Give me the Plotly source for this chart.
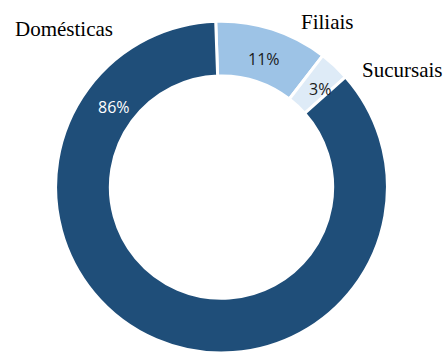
import plotly.graph_objects as go

# Share of units by type (%)
categories = ["Filiais", "Sucursais", "Domésticas"]
shares = [11, 3, 86]

slice_colors = ["#9DC3E6", "#DEEBF7", "#1F4E79"]
pct_colors = ["#1a1a1a", "#1a1a1a", "#ffffff"]

W, H = 447, 353

fig = go.Figure(
    go.Pie(
        labels=categories,
        values=shares,
        hole=0.67,
        sort=False,
        direction="clockwise",
        rotation=-2,
        textinfo="none",
        marker=dict(colors=slice_colors, line=dict(color="#ffffff", width=3)),
        domain=dict(x=[55.5 / W, 387.5 / W], y=[0, 0.94]),
        showlegend=False,
    )
)

# pixel anchors for the category names and percentage labels
name_pos = {"Domésticas": (63.5, 29), "Filiais": (327, 21.5), "Sucursais": (402.5, 70)}
pct_pos = {"Filiais": (264, 59), "Sucursais": (320, 89), "Domésticas": (113.5, 107)}

annotations = []
for cat, val, col in zip(categories, shares, pct_colors):
    nx, ny = name_pos[cat]
    annotations.append(dict(
        x=nx / W, y=1 - ny / H, xref="paper", yref="paper",
        text=cat, showarrow=False, xanchor="center", yanchor="middle",
        font=dict(family="Liberation Serif", size=21, color="#000000"),
    ))
    px, py = pct_pos[cat]
    annotations.append(dict(
        x=px / W, y=1 - py / H, xref="paper", yref="paper",
        text=f"{val}%", showarrow=False, xanchor="center", yanchor="middle",
        font=dict(family="Open Sans", size=16, color=col),
    ))

fig.update_layout(
    width=W, height=H,
    margin=dict(l=0, r=0, t=0, b=0),
    paper_bgcolor="#ffffff",
    plot_bgcolor="#ffffff",
    annotations=annotations,
)

fig.write_html("out.html")
